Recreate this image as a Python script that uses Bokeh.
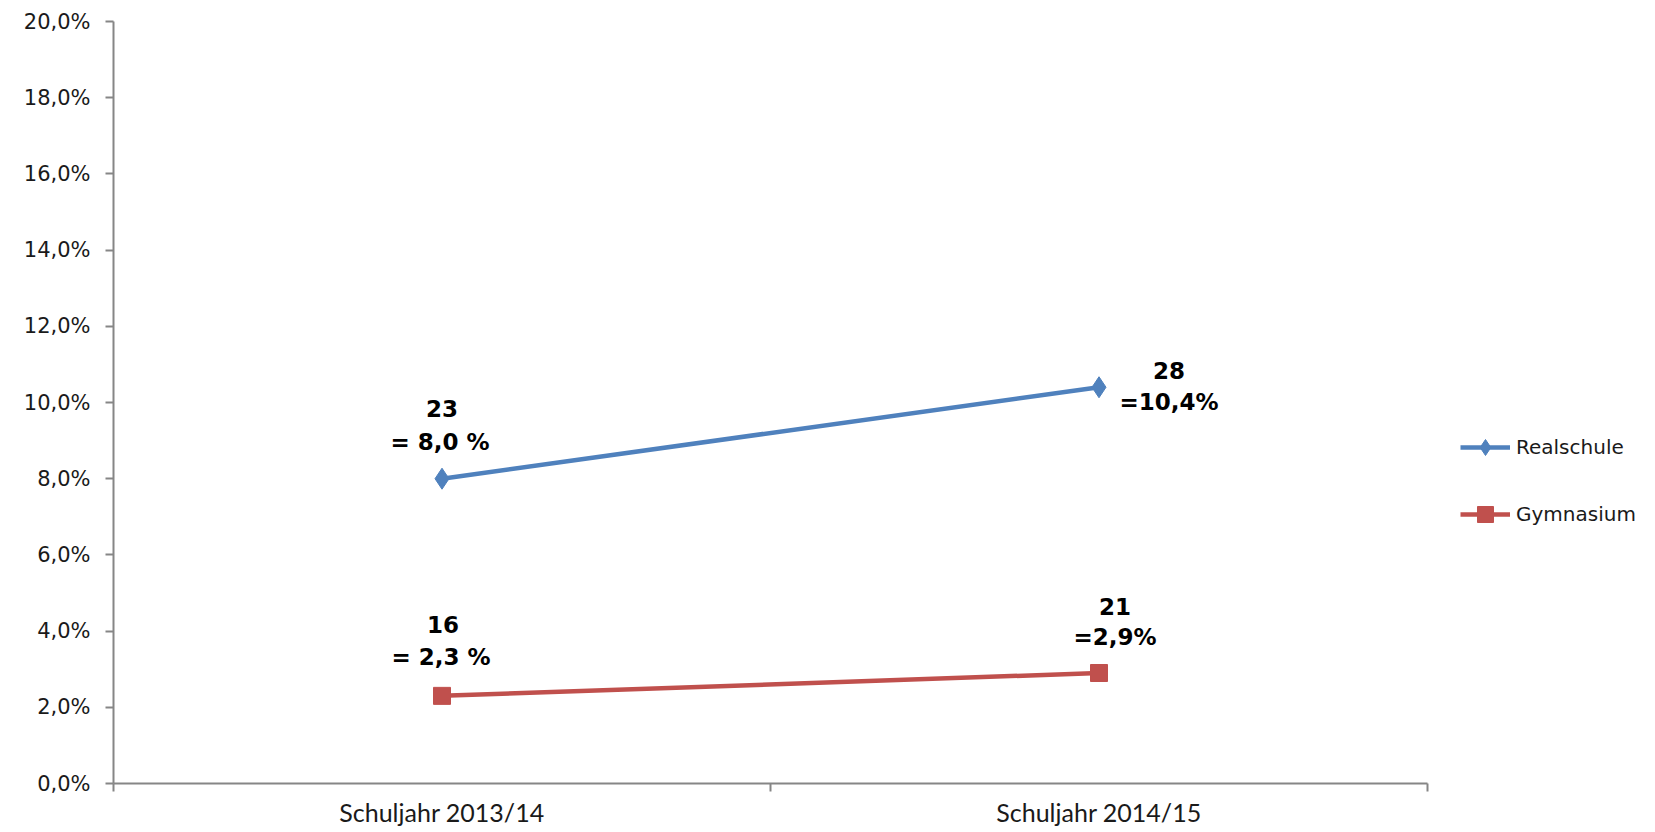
from bokeh.plotting import figure
from bokeh.models import FixedTicker, Legend, LegendItem, Label, Range1d
from bokeh.embed import file_html
from bokeh.resources import INLINE

# ---- data ----
categories = ["Schuljahr 2013/14", "Schuljahr 2014/15"]
realschule = [8.0, 10.4]
gymnasium = [2.3, 2.9]
realschule_counts = ["23", "28"]
realschule_pct = ["= 8,0 %", "=10,4%"]
gymnasium_counts = ["16", "21"]
gymnasium_pct = ["= 2,3 %", "=2,9%"]
y_ticks = [0, 2, 4, 6, 8, 10, 12, 14, 16, 18, 20]
y_tick_labels = ["0,0%", "2,0%", "4,0%", "6,0%", "8,0%", "10,0%",
                 "12,0%", "14,0%", "16,0%", "18,0%", "20,0%"]

BLUE = "#4F81BD"
RED = "#C0504D"
AXIS = "#868686"
TXT = "#1a1a1a"

n = len(categories)
xs = [i + 0.5 for i in range(n)]
bounds = [float(i) for i in range(n + 1)]

# layout (pixels)
W, H = 1650, 830
LEFT, TOP, RIGHT, BOTTOM = 113, 21, 5, 47
AXIS_PX = 1314  # pixel length of the category axis
frame_w = W - LEFT - RIGHT
x_end = n * frame_w / AXIS_PX  # extra room on the right for the legend

p = figure(width=W, height=H, x_range=Range1d(0, x_end), y_range=Range1d(0, 20),
           output_backend="svg", toolbar_location=None,
           min_border_left=LEFT, min_border_top=TOP, min_border_right=RIGHT,
           min_border_bottom=BOTTOM)
p.outline_line_color = None
p.grid.visible = False
p.background_fill_color = "white"
p.border_fill_color = "white"

# x axis
p.xaxis.bounds = (0, n)
p.xaxis.ticker = FixedTicker(ticks=xs, minor_ticks=bounds)
p.xaxis.major_label_overrides = {x: c for x, c in zip(xs, categories)}
p.xaxis.major_tick_out = 0
p.xaxis.major_tick_in = 0
p.xaxis.minor_tick_out = 8
p.xaxis.minor_tick_in = 0
p.xaxis.minor_tick_line_color = AXIS
p.xaxis.minor_tick_line_width = 2
p.xaxis.axis_line_color = AXIS
p.xaxis.axis_line_width = 2
p.xaxis.major_label_text_font = "Lato"
p.xaxis.major_label_text_font_size = "25px"
p.xaxis.major_label_text_color = TXT
p.xaxis.major_label_standoff = 5

# y axis
p.yaxis.ticker = FixedTicker(ticks=y_ticks, minor_ticks=[])
p.yaxis.major_label_overrides = {t: l for t, l in zip(y_ticks, y_tick_labels)}
p.yaxis.major_tick_out = 8
p.yaxis.major_tick_in = 0
p.yaxis.major_tick_line_color = AXIS
p.yaxis.major_tick_line_width = 2
p.yaxis.minor_tick_line_color = None
p.yaxis.axis_line_color = AXIS
p.yaxis.axis_line_width = 2
p.yaxis.major_label_text_font = "DejaVu Sans"
p.yaxis.major_label_text_font_size = "21px"
p.yaxis.major_label_text_color = TXT
p.yaxis.major_label_standoff = 15

# series
r_line = p.line(xs, realschule, line_color=BLUE, line_width=4.5)
r_mark = p.scatter(xs, realschule, marker="diamond", size=21,
                   fill_color=BLUE, line_color=BLUE)
g_line = p.line(xs, gymnasium, line_color=RED, line_width=4.5)
g_mark = p.scatter(xs, gymnasium, marker="square", size=17,
                   fill_color=RED, line_color=RED)

# data labels
def add_label(x, y, text, dx, dy):
    p.add_layout(Label(x=x, y=y, text=text, x_offset=dx, y_offset=dy,
                       text_align="center", text_baseline="middle",
                       text_font="DejaVu Sans", text_font_style="bold",
                       text_font_size="23px", text_color="black"))

# Realschule
add_label(xs[0], realschule[0], realschule_counts[0], 0, 70)
add_label(xs[0], realschule[0], realschule_pct[0], -2, 37)
add_label(xs[1], realschule[1], realschule_counts[1], 70, 17)
add_label(xs[1], realschule[1], realschule_pct[1], 70, -15)
# Gymnasium
add_label(xs[0], gymnasium[0], gymnasium_counts[0], 1, 71)
add_label(xs[0], gymnasium[0], gymnasium_pct[0], -1, 39)
add_label(xs[1], gymnasium[1], gymnasium_counts[1], 16, 67)
add_label(xs[1], gymnasium[1], gymnasium_pct[1], 16, 36)

legend = Legend(items=[LegendItem(label="Realschule", renderers=[r_line, r_mark]),
                       LegendItem(label="Gymnasium", renderers=[g_line, g_mark])],
                location=(1347, 249), orientation="vertical",
                glyph_width=50, glyph_height=40, label_height=40,
                label_standoff=6, spacing=27, padding=0, margin=0,
                label_text_font="DejaVu Sans", label_text_font_size="20px",
                label_text_color=TXT,
                border_line_alpha=0, background_fill_alpha=0)
p.add_layout(legend, "center")

open("out.html", "w").write(file_html(p, INLINE))
